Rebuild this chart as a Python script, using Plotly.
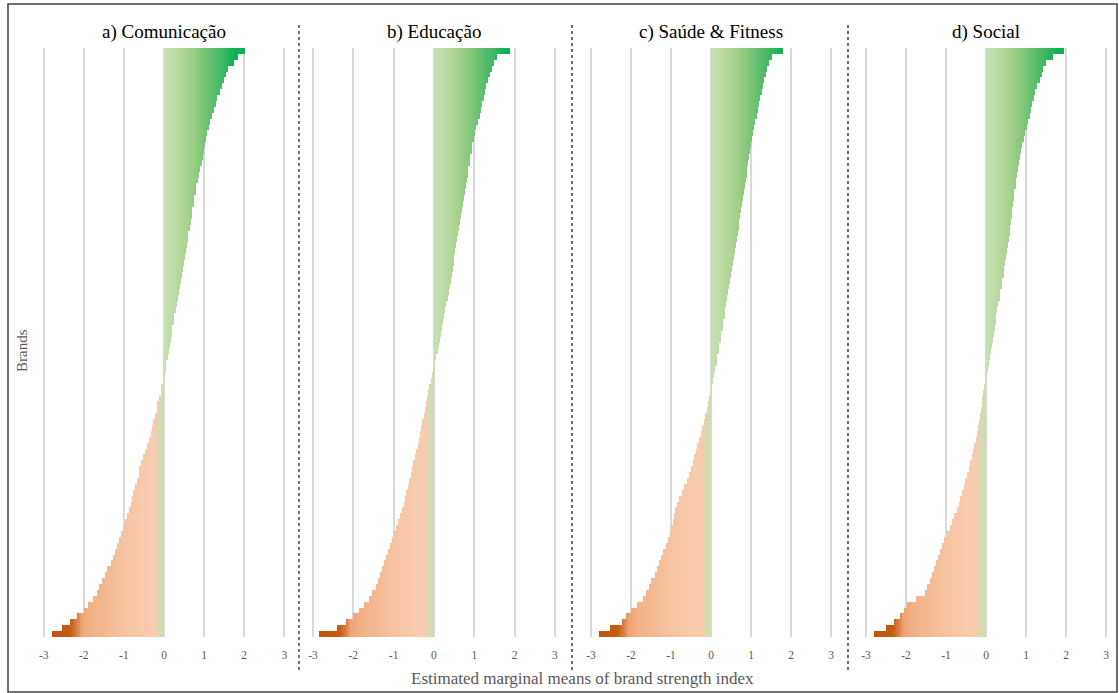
import plotly.graph_objects as go

# ---------------- data ----------------
titles = ["a) Comunicação", "b) Educação", "c) Saúde & Fitness", "d) Social"]
tick_vals = [-3, -2, -1, 0, 1, 2, 3]
tick_text = ["-3", "-2", "-1", "0", "1", "2", "3"]

comunicacao = [2.00, 1.84, 1.72, 1.58, 1.52, 1.47, 1.43, 1.37, 1.31, 1.27,
               1.23, 1.19, 1.15, 1.11, 1.06, 1.03, 1.01, 0.98, 0.96, 0.93,
               0.89, 0.86, 0.83, 0.80, 0.77, 0.74, 0.72, 0.70, 0.68, 0.66,
               0.63, 0.60, 0.58, 0.56, 0.53, 0.51, 0.48, 0.46, 0.43, 0.41,
               0.38, 0.36, 0.33, 0.31, 0.28, 0.25, 0.23, 0.20, 0.18, 0.16,
               0.13, 0.11, 0.08, 0.05, 0.02, -0.01, -0.03, -0.06, -0.09, -0.12,
               -0.16, -0.19, -0.22, -0.26, -0.30, -0.34, -0.39, -0.43, -0.48, -0.52,
               -0.57, -0.61, -0.64, -0.68, -0.72, -0.76, -0.80, -0.84, -0.89, -0.94,
               -0.98, -1.02, -1.06, -1.11, -1.16, -1.22, -1.28, -1.34, -1.41, -1.48,
               -1.55, -1.62, -1.69, -1.78, -1.90, -2.00, -2.18, -2.34, -2.55, -2.80]

educacao = [1.88, 1.55, 1.49, 1.43, 1.38, 1.35, 1.30, 1.26, 1.23, 1.20,
             1.16, 1.12, 1.08, 1.05, 1.01, 0.98, 0.95, 0.92, 0.89, 0.87,
             0.85, 0.83, 0.81, 0.78, 0.76, 0.73, 0.71, 0.68, 0.66, 0.64,
             0.61, 0.58, 0.56, 0.54, 0.51, 0.49, 0.48, 0.46, 0.44, 0.41,
             0.39, 0.36, 0.33, 0.30, 0.26, 0.24, 0.21, 0.19, 0.17, 0.14,
             0.11, 0.08, 0.05, 0.02, -0.01, -0.04, -0.07, -0.11, -0.13, -0.16,
             -0.19, -0.22, -0.25, -0.28, -0.31, -0.34, -0.37, -0.40, -0.43, -0.47,
             -0.51, -0.54, -0.57, -0.61, -0.64, -0.68, -0.71, -0.75, -0.79, -0.83,
             -0.87, -0.92, -0.98, -1.04, -1.09, -1.14, -1.19, -1.23, -1.28, -1.33,
             -1.39, -1.45, -1.53, -1.61, -1.72, -1.86, -2.00, -2.18, -2.40, -2.85]

saude_fitness = [1.80, 1.52, 1.45, 1.39, 1.36, 1.32, 1.29, 1.26, 1.22, 1.19,
                 1.16, 1.13, 1.10, 1.07, 1.04, 1.01, 0.99, 0.96, 0.94, 0.92,
                 0.90, 0.88, 0.86, 0.84, 0.82, 0.80, 0.77, 0.75, 0.72, 0.70,
                 0.69, 0.67, 0.65, 0.62, 0.60, 0.57, 0.54, 0.52, 0.49, 0.47,
                 0.45, 0.42, 0.40, 0.37, 0.35, 0.33, 0.30, 0.28, 0.25, 0.23,
                 0.20, 0.18, 0.15, 0.13, 0.10, 0.07, 0.04, 0.01, -0.02, -0.04,
                 -0.07, -0.10, -0.13, -0.17, -0.21, -0.25, -0.29, -0.33, -0.36, -0.41,
                 -0.45, -0.49, -0.54, -0.60, -0.66, -0.72, -0.80, -0.85, -0.89, -0.92,
                 -0.95, -0.98, -1.02, -1.07, -1.12, -1.18, -1.24, -1.29, -1.33, -1.40,
                 -1.48, -1.55, -1.61, -1.68, -1.83, -1.98, -2.12, -2.21, -2.52, -2.80]

social = [1.95, 1.66, 1.48, 1.42, 1.38, 1.34, 1.27, 1.21, 1.18, 1.14,
          1.12, 1.08, 1.05, 1.02, 0.97, 0.93, 0.89, 0.86, 0.84, 0.82,
          0.79, 0.77, 0.75, 0.73, 0.70, 0.69, 0.67, 0.65, 0.64, 0.62,
          0.60, 0.58, 0.56, 0.53, 0.51, 0.49, 0.47, 0.45, 0.43, 0.40,
          0.38, 0.35, 0.33, 0.30, 0.27, 0.25, 0.23, 0.21, 0.19, 0.17,
          0.14, 0.12, 0.09, 0.07, 0.04, 0.01, -0.01, -0.04, -0.06, -0.08,
          -0.10, -0.11, -0.14, -0.16, -0.19, -0.21, -0.24, -0.28, -0.31, -0.34,
          -0.38, -0.42, -0.46, -0.51, -0.55, -0.59, -0.63, -0.67, -0.72, -0.78,
          -0.84, -0.90, -0.97, -1.04, -1.10, -1.15, -1.20, -1.25, -1.30, -1.35,
          -1.40, -1.46, -1.52, -1.75, -1.97, -2.05, -2.15, -2.30, -2.50, -2.80]

panels = [comunicacao, educacao, saude_fitness, social]

# ---------------- styling ----------------
W, H = 1119, 693
SERIF = "Liberation Serif, Times New Roman, serif"
GREY = "#595959"

pos_stops = [(0.0, (200, 224, 182)), (0.3, (186, 217, 160)), (0.6, (168, 209, 141)),
             (1.0, (122, 196, 118)), (1.4, (72, 184, 102)), (1.8, (12, 177, 82)),
             (2.2, (0, 176, 80))]
neg_stops = [(0.0, (206, 221, 180)), (0.08, (208, 220, 178)), (0.22, (246, 203, 175)),
             (0.4, (248, 203, 172)), (1.0, (246, 195, 160)), (1.8, (242, 177, 135)),
             (2.05, (238, 166, 120)), (2.2, (215, 122, 62)), (2.35, (197, 90, 17)),
             (3.1, (190, 82, 12))]


def lerp_color(stops, d):
    for (a, ca), (b, cb) in zip(stops, stops[1:]):
        if d <= b:
            f = (d - a) / (b - a)
            return "rgb(%d,%d,%d)" % tuple(round(ca[k] + (cb[k] - ca[k]) * f) for k in range(3))
    return "rgb(%d,%d,%d)" % stops[-1][1]


centers = [164, 434, 711, 986]
units = [40.1, 40.33, 40.0, 40.0]
RANGE = 3.1
y_top_px, y_bot_px = 48, 637

fig = go.Figure()
STEP = 0.05

for p, vals in enumerate(panels):
    xa = "x" if p == 0 else "x%d" % (p + 1)
    ya = "y" if p == 0 else "y%d" % (p + 1)
    n = len(vals)
    # positive segments
    k = 0
    while k * STEP < max(vals):
        lo, hi = k * STEP, (k + 1) * STEP
        idx = [i for i, v in enumerate(vals) if v > lo]
        fig.add_trace(go.Bar(
            orientation="h", y=idx, x=[min(vals[i], hi) - lo for i in idx], base=lo,
            width=1, marker=dict(color=lerp_color(pos_stops, (lo + hi) / 2), line=dict(width=0)),
            xaxis=xa, yaxis=ya, showlegend=False, hoverinfo="skip"))
        k += 1
    # negative segments
    k = 0
    while -k * STEP > min(vals):
        hi, lo = -k * STEP, -(k + 1) * STEP
        idx = [i for i, v in enumerate(vals) if v < hi]
        fig.add_trace(go.Bar(
            orientation="h", y=idx, x=[max(vals[i], lo) - hi for i in idx], base=hi,
            width=1, marker=dict(color=lerp_color(neg_stops, -(lo + hi) / 2), line=dict(width=0)),
            xaxis=xa, yaxis=ya, showlegend=False, hoverinfo="skip"))
        k += 1

    c, u = centers[p], units[p]
    dom = [(c - RANGE * u) / W, (c + RANGE * u) / W]
    key = "xaxis" if p == 0 else "xaxis%d" % (p + 1)
    ykey = "yaxis" if p == 0 else "yaxis%d" % (p + 1)
    fig.layout[key] = dict(domain=dom, range=[-RANGE, RANGE], anchor=ya,
                           tickvals=tick_vals, ticktext=tick_text, showgrid=True,
                           gridcolor="#d9d9d9", gridwidth=1.5, zeroline=False,
                           showline=False, ticks="", ticklabelstandoff=9,
                           tickfont=dict(family=SERIF, size=11.5, color=GREY), fixedrange=True)
    fig.layout[ykey] = dict(domain=[1 - y_bot_px / H, 1 - y_top_px / H], anchor=xa,
                            range=[n - 0.5, -0.5], showticklabels=False, showgrid=False,
                            zeroline=False, showline=False, ticks="", fixedrange=True)
    fig.add_annotation(x=c / W, y=1 - 32 / H, xref="paper", yref="paper", text=titles[p],
                       showarrow=False, xanchor="center", yanchor="middle",
                       font=dict(family=SERIF, size=19, color="#000000"))

# axis titles
fig.add_annotation(x=582 / W, y=1 - 678 / H, xref="paper", yref="paper",
                   text="Estimated marginal means of brand strength index", showarrow=False,
                   xanchor="center", yanchor="middle", font=dict(family=SERIF, size=17, color=GREY))
fig.add_annotation(x=22 / W, y=1 - 351 / H, xref="paper", yref="paper", text="Brands",
                   textangle=-90, showarrow=False, xanchor="center", yanchor="middle",
                   font=dict(family=SERIF, size=15, color=GREY))

shapes = [dict(type="rect", xref="paper", yref="paper", x0=8 / W, x1=1117 / W,
               y0=1 - 692 / H, y1=1 - 4 / H, line=dict(color="#404040", width=1.5))]
for sx in [299, 572, 848]:
    shapes.append(dict(type="line", xref="paper", yref="paper", x0=sx / W, x1=sx / W,
                       y0=1 - 670 / H, y1=1 - 24 / H,
                       line=dict(color="#404040", width=1.5, dash="dot")))
fig.update_layout(shapes=shapes)

fig.update_layout(width=W, height=H, margin=dict(l=0, r=0, t=0, b=0),
                  paper_bgcolor="white", plot_bgcolor="white", barmode="overlay",
                  bargap=0, showlegend=False)

fig.write_html("out.html", config={"displayModeBar": False},
               post_script="document.body.style.margin='0';document.body.style.overflow='hidden';")
